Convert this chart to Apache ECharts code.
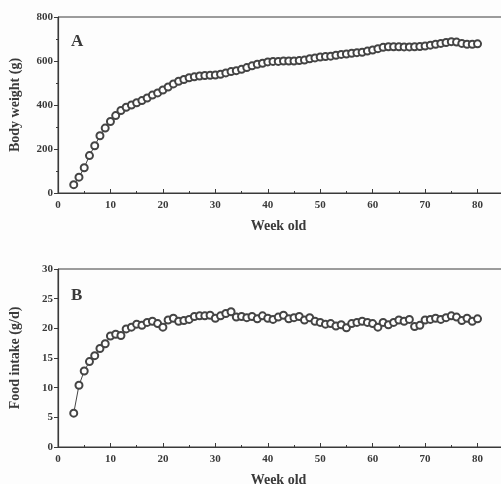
<!DOCTYPE html>
<html>
<head>
<meta charset="utf-8">
<script src="https://cdn.jsdelivr.net/npm/echarts@6/dist/echarts.min.js"></script>
<style>
  html, body { margin: 0; padding: 0; background: #fdfdfd; }
  #chart { width: 501px; height: 484px; }
</style>
</head>
<body>
<div id="chart"></div>
<script>
// weeks 3..80
const weeks = [];
for (let w = 3; w <= 80; w++) weeks.push(w);

// body weight (g)
const bodyWeight = [
  38, 72, 115, 170, 215, 260, 295, 325, 352, 375,
  390, 400, 410, 420, 432, 445, 455, 468, 482, 496,
  508, 516, 524, 528, 532, 534, 535, 536, 540, 546,
  552, 556, 562, 570, 578, 585, 590, 596, 598, 598,
  600, 600, 600, 602, 604, 610, 614, 618, 620, 622,
  626, 630, 632, 635, 638, 640, 645, 650, 656, 662,
  665, 665, 665, 664, 664, 665, 666, 668, 672, 676,
  680, 684, 688, 686, 680, 676, 676, 678
];

// food intake (g/d)
const foodIntake = [
  5.7, 10.4, 12.8, 14.4, 15.4, 16.6, 17.4, 18.7, 19.0, 18.8,
  19.9, 20.2, 20.7, 20.5, 21.0, 21.2, 20.8, 20.2, 21.4, 21.7,
  21.2, 21.3, 21.5, 22.0, 22.1, 22.1, 22.2, 21.7, 22.1, 22.5,
  22.8, 21.9, 22.0, 21.8, 22.0, 21.6, 22.1, 21.7, 21.5, 21.9,
  22.2, 21.6, 21.8, 22.0, 21.4, 21.8, 21.2, 21.0, 20.7, 20.8,
  20.4, 20.6, 20.1, 20.8, 21.0, 21.2, 21.0, 20.8, 20.2, 21.0,
  20.6, 21.0, 21.4, 21.2, 21.5, 20.3, 20.5, 21.4, 21.5, 21.7,
  21.5, 21.8, 22.1, 21.9, 21.3, 21.7, 21.2, 21.6
];

const xTicks = [0, 10, 20, 30, 40, 50, 60, 70, 80];

const ink = '#3a3a3a';
const font = 'Liberation Serif';

const chart = echarts.init(document.getElementById('chart'));

function xAxisOpt(gridIndex) {
  return {
    type: 'value',
    gridIndex: gridIndex,
    min: 0,
    max: 86,
    interval: 10,
    name: 'Week old',
    nameLocation: 'middle',
    nameGap: 26,
    nameTextStyle: { fontFamily: font, fontWeight: 'bold', fontSize: 14, color: ink, padding: [0, 10, 0, 0] },
    axisLine: { lineStyle: { color: ink, width: 1.2 } },
    axisTick: { inside: true, length: 4, lineStyle: { color: ink } },
    minorTick: { show: true, splitNumber: 2, length: 2, lineStyle: { color: ink } },
    splitLine: { show: false },
    axisLabel: {
      fontFamily: font, fontWeight: 'bold', fontSize: 11, color: ink, margin: 7,
      formatter: function (v) { return xTicks.indexOf(v) >= 0 ? String(v) : ''; }
    }
  };
}

function yAxisOpt(gridIndex, max, interval, name, minor) {
  return {
    type: 'value',
    gridIndex: gridIndex,
    min: 0,
    max: max,
    interval: interval,
    name: name,
    nameLocation: 'middle',
    nameGap: 36,
    nameTextStyle: { fontFamily: font, fontWeight: 'bold', fontSize: 14, color: ink },
    axisLine: { show: true, lineStyle: { color: ink, width: 1.2 } },
    axisTick: { show: true, length: 4, lineStyle: { color: ink } },
    minorTick: { show: minor, splitNumber: 2, length: 2, lineStyle: { color: ink } },
    splitLine: { show: false },
    axisLabel: { fontFamily: font, fontWeight: 'bold', fontSize: 11, color: ink, margin: 5 }
  };
}

function seriesOpt(idx, values) {
  return {
    type: 'line',
    xAxisIndex: idx,
    yAxisIndex: idx,
    data: weeks.map((w, i) => [w, values[i]]),
    symbol: 'emptyCircle',
    symbolSize: 7,
    lineStyle: { color: '#444', width: 1 },
    itemStyle: { color: '#444', borderWidth: 1.3 },
    animation: false
  };
}

chart.setOption({
  backgroundColor: '#fdfdfd',
  title: [
    { text: 'A', left: 66, top: 28, textStyle: { fontFamily: font, fontWeight: 'bold', fontSize: 17, color: ink } },
    { text: 'B', left: 66, top: 282, textStyle: { fontFamily: font, fontWeight: 'bold', fontSize: 17, color: ink } }
  ],
  grid: [
    { left: 58, right: -8, top: 17, bottom: 291, outerBoundsMode: 'none', show: true, borderColor: ink, borderWidth: 1, backgroundColor: 'transparent' },
    { left: 58, right: -8, top: 269, bottom: 37, outerBoundsMode: 'none', show: true, borderColor: ink, borderWidth: 1, backgroundColor: 'transparent' }
  ],
  xAxis: [xAxisOpt(0), xAxisOpt(1)],
  yAxis: [
    yAxisOpt(0, 800, 200, 'Body weight (g)', true),
    yAxisOpt(1, 30, 5, 'Food intake (g/d)', false)
  ],
  series: [seriesOpt(0, bodyWeight), seriesOpt(1, foodIntake)]
});
</script>
</body>
</html>
